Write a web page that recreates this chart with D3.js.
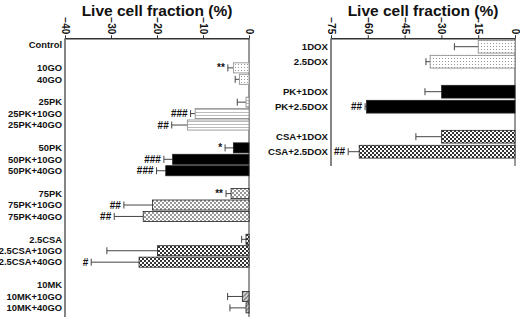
<!DOCTYPE html>
<meta charset="utf-8">
<style>
  body { margin: 0; background: #fff; }
  text { font-family: "Liberation Sans", Arial, sans-serif; font-weight: bold; fill: #111; }
  .axis path, .axis line { stroke: #333; }
</style>
<body></body>
<script src="https://cdnjs.cloudflare.com/ajax/libs/d3/7.8.5/d3.min.js"></script>
<script>

// left panel data
var leftGroups = [
  ["Control"],
  ["10GO", "40GO"],
  ["25PK", "25PK+10GO", "25PK+40GO"],
  ["50PK", "50PK+10GO", "50PK+40GO"],
  ["75PK", "75PK+10GO", "75PK+40GO"],
  ["2.5CSA", "2.5CSA+10GO", "2.5CSA+40GO"],
  ["10MK", "10MK+10GO", "10MK+40GO"]
];
var leftValues = {
  "Control": 0, "10GO": -3.4, "40GO": -2.1,
  "25PK": -0.65, "25PK+10GO": -11.7, "25PK+40GO": -13.4,
  "50PK": -3.4, "50PK+10GO": -16.6, "50PK+40GO": -18.1,
  "75PK": -3.9, "75PK+10GO": -21.0, "75PK+40GO": -23.0,
  "2.5CSA": -0.65, "2.5CSA+10GO": -19.9, "2.5CSA+40GO": -23.9,
  "10MK": 0, "10MK+10GO": -1.45, "10MK+40GO": -0.65
};
var leftErrors = {
  "Control": 0, "10GO": 1.2, "40GO": 0.9,
  "25PK": 1.9, "25PK+10GO": 1.0, "25PK+40GO": 3.4,
  "50PK": 1.8, "50PK+10GO": 1.9, "50PK+40GO": 2.0,
  "75PK": 1.1, "75PK+10GO": 6.2, "75PK+40GO": 6.3,
  "2.5CSA": 0.95, "2.5CSA+10GO": 11.0, "2.5CSA+40GO": 10.4,
  "10MK": 0, "10MK+10GO": 3.2, "10MK+40GO": 3.5
};
var leftSig = {
  "10GO": "**", "25PK+10GO": "###", "25PK+40GO": "##",
  "50PK": "*", "50PK+10GO": "###", "50PK+40GO": "###",
  "75PK": "**", "75PK+10GO": "##", "75PK+40GO": "##",
  "2.5CSA+40GO": "#"
};
var leftTicks = [-40, -30, -20, -10, 0];

// right panel data
var rightGroups = [
  ["1DOX", "2.5DOX"],
  ["PK+1DOX", "PK+2.5DOX"],
  ["CSA+1DOX", "CSA+2.5DOX"]
];
var rightValues = {
  "1DOX": -15.0, "2.5DOX": -34.6,
  "PK+1DOX": -29.9, "PK+2.5DOX": -60.5,
  "CSA+1DOX": -29.9, "CSA+2.5DOX": -63.5
};
var rightErrors = {
  "1DOX": 9.7, "2.5DOX": 1.7,
  "PK+1DOX": 6.8, "PK+2.5DOX": 0.6,
  "CSA+1DOX": 10.5, "CSA+2.5DOX": 4.5
};
var rightSig = { "PK+2.5DOX": "##", "CSA+2.5DOX": "##" };
var rightTicks = [-75, -60, -45, -30, -15, 0];

var svg = d3.select("body").append("svg")
    .attr("width", 520)
    .attr("height", 317);

// fill patterns
var defs = svg.append("defs");

var dots = defs.append("pattern").attr("id", "dots")
    .attr("patternUnits", "userSpaceOnUse").attr("width", 3).attr("height", 3);
dots.append("rect").attr("width", 3).attr("height", 3).attr("fill", "#fff");
dots.append("rect").attr("x", 1).attr("y", 1).attr("width", 1).attr("height", 1).attr("fill", "#999");

var hlines = defs.append("pattern").attr("id", "hlines")
    .attr("patternUnits", "userSpaceOnUse").attr("width", 3).attr("height", 3);
hlines.append("rect").attr("width", 3).attr("height", 3).attr("fill", "#fff");
hlines.append("rect").attr("y", 1).attr("width", 3).attr("height", 1).attr("fill", "#bbb");

function checker(id, c) {
  var p = defs.append("pattern").attr("id", id)
      .attr("patternUnits", "userSpaceOnUse").attr("width", 4).attr("height", 4);
  p.append("rect").attr("width", 4).attr("height", 4).attr("fill", "#fff");
  p.append("rect").attr("width", 2).attr("height", 2).attr("fill", c);
  p.append("rect").attr("x", 2).attr("y", 2).attr("width", 2).attr("height", 2).attr("fill", c);
}
checker("lightcheck", "#999");
checker("darkcheck", "#333");

var diag = defs.append("pattern").attr("id", "diag")
    .attr("patternUnits", "userSpaceOnUse").attr("width", 3).attr("height", 3)
    .attr("patternTransform", "rotate(45)");
diag.append("rect").attr("width", 3).attr("height", 3).attr("fill", "#ddd");
diag.append("rect").attr("width", 1.4).attr("height", 3).attr("fill", "#777");

function fillFor(label) {
  if (label.indexOf("MK") >= 0) return "url(#diag)";
  if (label.indexOf("CSA") >= 0) return "url(#darkcheck)";
  if (label.indexOf("75PK") >= 0) return "url(#lightcheck)";
  if (label.indexOf("25PK") >= 0) return "url(#hlines)";
  if (label.indexOf("PK") >= 0) return "#000";
  return "url(#dots)";
}
function strokeFor(label) {
  var f = fillFor(label);
  return (f == "url(#dots)" || f == "url(#hlines)") ? "#888" : "#222";
}

function slotsOf(groups) {
  var s = [];
  groups.forEach(function (g, i) {
    g.forEach(function (l) { s.push(l); });
    if (i < groups.length - 1) s.push("gap" + i);
  });
  return s;
}

function panel(opt) {
  var g = svg.append("g");
  var x = d3.scaleLinear().domain(opt.domain).range(opt.xr);
  var slots = slotsOf(opt.groups);
  var y = d3.scaleBand().domain(slots).range(opt.yr).paddingInner(opt.pad).paddingOuter(opt.pad / 2);
  var labels = slots.filter(function (s) { return s.indexOf("gap") != 0; });

  g.append("text")
    .attr("x", (opt.xr[0] + opt.xr[1]) / 2)
    .attr("y", 16)
    .attr("text-anchor", "middle")
    .style("font-size", "15.5px")
    .text("Live cell fraction (%)");

  // zero line
  g.append("line")
    .attr("x1", x(0)).attr("x2", x(0))
    .attr("y1", opt.yr[0] - 1).attr("y2", opt.lineEnd)
    .attr("stroke", "#333").attr("stroke-width", 1);

  // left frame line
  g.append("line")
    .attr("x1", x(opt.domain[0])).attr("x2", x(opt.domain[0]))
    .attr("y1", opt.yr[0] - 1).attr("y2", opt.lineEnd)
    .attr("stroke", "#333").attr("stroke-width", 1.2);

  var ax = g.append("g")
    .attr("class", "axis")
    .attr("transform", "translate(0," + (opt.yr[0] - 1) + ")")
    .call(d3.axisTop(x).tickValues(opt.ticks).tickSize(3).tickSizeOuter(0).tickFormat(d3.format("d")));
  ax.select(".domain").attr("stroke-width", 1.4);
  ax.selectAll(".tick text")
    .attr("transform", "rotate(90)")
    .attr("x", -4)
    .attr("y", 0)
    .attr("dy", "0.35em")
    .attr("text-anchor", "end")
    .style("font-size", "10px")
    .style("font-family", "'Liberation Sans', Arial, sans-serif")
    .style("font-weight", "bold");

  g.selectAll(".cat").data(labels).enter().append("text")
    .attr("class", "cat")
    .attr("x", x(opt.domain[0]) - 3)
    .attr("y", function (d) { return y(d) + y.bandwidth() / 2; })
    .attr("dy", "0.35em")
    .attr("text-anchor", "end")
    .style("font-size", opt.font)
    .text(function (d) { return d; });

  var bars = labels.filter(function (d) { return opt.values[d] < 0; });

  g.selectAll(".err").data(bars).enter().append("line")
    .attr("x1", function (d) { return x(opt.values[d]); })
    .attr("x2", function (d) { return x(opt.values[d] - opt.errors[d]); })
    .attr("y1", function (d) { return y(d) + y.bandwidth() / 2; })
    .attr("y2", function (d) { return y(d) + y.bandwidth() / 2; })
    .attr("stroke", "#444").attr("stroke-width", 1);
  g.selectAll(".cap").data(bars).enter().append("line")
    .attr("x1", function (d) { return x(opt.values[d] - opt.errors[d]); })
    .attr("x2", function (d) { return x(opt.values[d] - opt.errors[d]); })
    .attr("y1", function (d) { return y(d) + y.bandwidth() / 2 - 3.5; })
    .attr("y2", function (d) { return y(d) + y.bandwidth() / 2 + 3.5; })
    .attr("stroke", "#444").attr("stroke-width", 1);

  g.selectAll(".bar").data(bars).enter().append("rect")
    .attr("x", function (d) { return x(opt.values[d]); })
    .attr("y", function (d) { return y(d); })
    .attr("width", function (d) { return x(0) - x(opt.values[d]); })
    .attr("height", y.bandwidth())
    .attr("fill", function (d) { return fillFor(d); })
    .attr("stroke", function (d) { return strokeFor(d); })
    .attr("stroke-width", 0.8);

  g.selectAll(".sig").data(Object.keys(opt.sig)).enter().append("text")
    .attr("x", function (d) { return x(opt.values[d] - opt.errors[d]) - 3; })
    .attr("y", function (d) { return y(d) + y.bandwidth() / 2; })
    .attr("dy", "0.35em")
    .attr("text-anchor", "end")
    .style("font-size", "10px")
    .text(function (d) { return opt.sig[d]; });
}

panel({
  groups: leftGroups, values: leftValues, errors: leftErrors, sig: leftSig,
  domain: [-40, 0], ticks: leftTicks,
  xr: [65, 249], yr: [39.3, 313.6], pad: 0.12, lineEnd: 317, font: "9.4px"
});

panel({
  groups: rightGroups, values: rightValues, errors: rightErrors, sig: rightSig,
  domain: [-75, 0], ticks: rightTicks,
  xr: [331, 515], yr: [39.2, 159.2], pad: 0.15, lineEnd: 166, font: "9.6px"
});

</script>
